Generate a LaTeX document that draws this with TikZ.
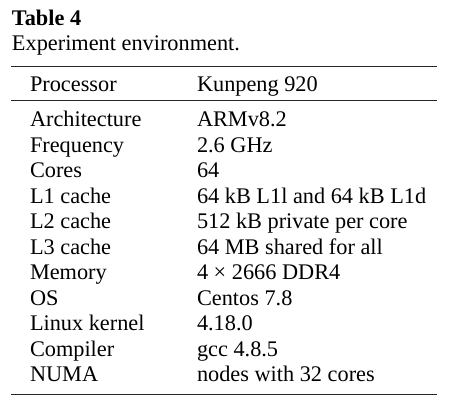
\documentclass[tikz,border=0pt]{standalone}
\usepackage{fontspec}
\setmainfont{Liberation Serif}
\begin{document}
\begin{tikzpicture}[x=1pt,y=1pt,
  cell/.style={anchor=base west,inner sep=0pt,outer sep=0pt,font=\fontsize{22.3}{26}\selectfont,text=black},
  titlecell/.style={cell,font=\fontsize{22.3}{26}\selectfont\bfseries},
  rulex/.style={line width=0.9pt,draw=black!85}]
\useasboundingbox (0,0) rectangle (466,-410);
\node[titlecell] (title) at (12,-25) {Table 4};
\node[cell] (caption) at (12,-50.7) {Experiment environment.};
\coordinate (tl) at (11,-66); \coordinate (tr) at (437,-66);
\coordinate (ml) at (11,-100.7); \coordinate (mr) at (437,-100.7);
\coordinate (bl) at (11,-394); \coordinate (br) at (437,-394);
\draw[rulex] (tl) -- (tr);
\draw[rulex] (ml) -- (mr);
\draw[rulex] (bl) -- (br);
\node[cell] (h1) at (30,-91) {Processor};
\node[cell] (h2) at (197,-91) {Kunpeng 920};
\foreach \k/\a/\b in {0/Architecture/ARMv8.2,1/Frequency/2.6 GHz,2/Cores/64,3/L1 cache/64 kB L1l and 64 kB L1d,4/L2 cache/512 kB private per core,5/L3 cache/64 MB shared for all,6/Memory/4 × 2666 DDR4,7/OS/Centos 7.8,8/Linux kernel/4.18.0,9/Compiler/gcc 4.8.5,10/NUMA/nodes with 32 cores}{
  \node[cell] (a\k) at (30,{-126.5-25.5*\k}) {\a};
  \node[cell] (b\k) at (197,{-126.5-25.5*\k}) {\b};
}
\end{tikzpicture}
\end{document}
